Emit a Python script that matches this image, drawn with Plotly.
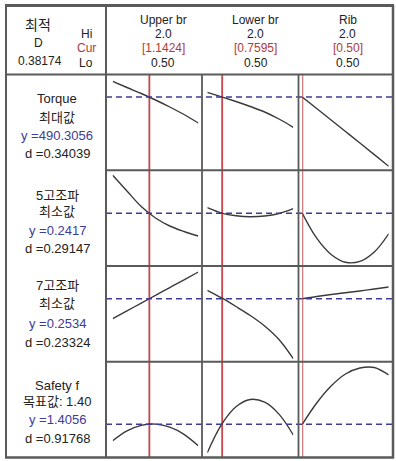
import plotly.graph_objects as go

W, H = 396, 461

# ---------------- data ----------------
factors = ["Upper br", "Lower br", "Rib"]
factor_hi = ["2.0", "2.0", "2.0"]
factor_cur = [1.1424, 0.7595, 0.50]
factor_cur_txt = ["[1.1424]", "[0.7595]", "[0.50]"]
factor_lo = ["0.50", "0.50", "0.50"]

x_grid = [0.5, 0.75, 1.0, 1.25, 1.5, 1.75, 2.0]

torque_upper = [521.7, 509.3, 497.3, 484.3, 470.3, 455.3, 438.3]
torque_lower = [499.7, 490.7, 481.3, 471.3, 460.3, 446.3, 429.7]
torque_rib = [490.3, 467.3, 444.3, 421.3, 398.3, 375.1, 351.7]

h5_upper = [0.3177, 0.2863, 0.2553, 0.2323, 0.2163, 0.2053, 0.1963]
h5_lower = [0.2529, 0.2421, 0.2367, 0.2347, 0.2363, 0.2413, 0.2509]
h5_rib = [0.2417, 0.1919, 0.1593, 0.1437, 0.1455, 0.1643, 0.2007]

h7_upper = [0.2234, 0.2351, 0.2468, 0.2585, 0.2701, 0.2818, 0.2935]
h7_lower = [0.2660, 0.2545, 0.2417, 0.2282, 0.2125, 0.1922, 0.1634]
h7_rib = [0.2534, 0.2567, 0.2597, 0.2624, 0.2650, 0.2680, 0.2710]

sf_upper = [1.3236, 1.3726, 1.4001, 1.4066, 1.3916, 1.3556, 1.2981]
sf_lower = [1.2636, 1.4051, 1.4931, 1.5296, 1.5161, 1.4566, 1.3521]
sf_rib = [1.4056, 1.5121, 1.5971, 1.6571, 1.6871, 1.6896, 1.6521]

response_curves = [
    [torque_upper, torque_lower, torque_rib],
    [h5_upper, h5_lower, h5_rib],
    [h7_upper, h7_lower, h7_rib],
    [sf_upper, sf_lower, sf_rib],
]
response_cur = [490.3056, 0.2417, 0.2534, 1.4056]
row_lo = [343.8, 0.1363, 0.1588, 1.2396]
row_hi = [535.3, 0.3278, 0.3025, 1.7184]

response_name = ["Torque", "5고조파", "7고조파", "Safety f"]
response_goal = ["최대값", "최소값", "최소값", "목표값: 1.40"]
response_y_txt = ["y =490.3056", "y =0.2417", "y =0.2534", "y =1.4056"]
response_d_txt = ["d =0.34039", "d =0.29147", "d =0.23324", "d =0.91768"]

composite_d = "0.38174"

# ---------------- layout geometry (pixels) ----------------
col_data = [(112.7, 198.3), (207.3, 293.3), (302.3, 388.7)]
col_lines = [106, 202, 298.5, 393]
row_lines = [74.5, 170.25, 266, 361.75, 457.5]

def px(x):
    return x / W

def py(y):
    return 1 - y / H

FONT = "Liberation Sans, Arial, Noto Sans CJK KR, sans-serif"
CURVE = "#3a3a3a"
RED = "#c4474a"
BLUE = "#3c3c96"
GRID = "#5a5a5a"

fig = go.Figure()
layout = dict(
    width=W, height=H, margin=dict(l=0, r=0, t=0, b=0),
    paper_bgcolor="white", plot_bgcolor="rgba(0,0,0,0)",
    showlegend=False,
)

shapes = []
annotations = []

for r in range(4):
    for c in range(3):
        k = r * 3 + c + 1
        xa = "xaxis" if k == 1 else f"xaxis{k}"
        ya = "yaxis" if k == 1 else f"yaxis{k}"
        xs = "x" if k == 1 else f"x{k}"
        ys = "y" if k == 1 else f"y{k}"
        layout[xa] = dict(domain=[px(col_data[c][0]), px(col_data[c][1])],
                          range=[0.5, 2.0], visible=False, anchor=ys, fixedrange=True)
        layout[ya] = dict(domain=[py(row_lines[r + 1]), py(row_lines[r])],
                          range=[row_lo[r], row_hi[r]], visible=False, anchor=xs, fixedrange=True)
        fig.add_trace(go.Scatter(
            x=x_grid, y=response_curves[r][c], mode="lines",
            line=dict(color=CURVE, width=1.4, shape="spline", smoothing=1.0),
            xaxis=xs, yaxis=ys, hoverinfo="skip", cliponaxis=False,
        ))
    ys0 = "y" if r == 0 else f"y{r*3+1}"
    shapes.append(dict(type="line", xref="paper", yref=ys0,
                       x0=px(col_lines[0]), x1=px(col_lines[3]),
                       y0=response_cur[r], y1=response_cur[r],
                       line=dict(color=BLUE, width=1.5, dash="6px,4px"), layer="above"))

for c in range(3):
    xs = "x" if c == 0 else f"x{c+1}"
    shapes.append(dict(type="line", xref=xs, yref="paper",
                       x0=factor_cur[c], x1=factor_cur[c],
                       y0=py(row_lines[4]), y1=py(row_lines[0]),
                       line=dict(color=RED, width=1.8), layer="below"))

def hline(y, x0, x1, w=2, col=GRID):
    shapes.append(dict(type="line", xref="paper", yref="paper",
                       x0=px(x0), x1=px(x1), y0=py(y), y1=py(y),
                       line=dict(color=col, width=w)))

def vline(x, y0, y1, w=2, col=GRID):
    shapes.append(dict(type="line", xref="paper", yref="paper",
                       x0=px(x), x1=px(x), y0=py(y0), y1=py(y1),
                       line=dict(color=col, width=w)))

hline(5.5, 5, 394, w=3)
hline(457.5, 5, 394, w=2.5)
vline(6, 5, 458, w=2)
vline(393, 5, 458, w=2.5)
hline(74.5, 6, 393, w=2)
vline(106, 6, 458, w=2)
for x in col_lines[1:3]:
    vline(x, 74.5, 457.5, w=1.8)
for y in row_lines[1:4]:
    hline(y, 106, 393, w=1.8)

def txt(x, y, s, color="#222222", size=12, xanchor="center"):
    annotations.append(dict(x=px(x), y=py(y), xref="paper", yref="paper",
                            text=s, showarrow=False, xanchor=xanchor, yanchor="middle",
                            font=dict(family=FONT, size=size, color=color)))

txt(38, 25, "최적", size=14)
txt(38, 43, "D")
txt(40, 61, composite_d)
txt(86, 34, "Hi")
txt(86, 48, "Cur", color="#b03a3a")
txt(86, 62.5, "Lo")

head_x = [163, 255.5, 347.5]
for c in range(3):
    txt(head_x[c], 20, factors[c])
    txt(head_x[c], 34, factor_hi[c])
    txt(head_x[c], 48, factor_cur_txt[c], color="#b03a3a")
    txt(head_x[c], 62.5, factor_lo[c])

label_y = [
    [98, 117.3, 135, 153.3],
    [195, 211.7, 230, 249],
    [285, 303.3, 323.3, 342.7],
    [385, 401, 419.5, 438.3],
]
for r in range(4):
    ly = label_y[r]
    txt(57, ly[0], response_name[r], size=13)
    txt(57, ly[1], response_goal[r], size=13)
    txt(57, ly[2], response_y_txt[r], color=BLUE, size=13)
    txt(57, ly[3], response_d_txt[r], size=13)

layout["shapes"] = shapes
layout["annotations"] = annotations
fig.update_layout(**layout)
fig.write_html("out.html", config={"displayModeBar": False},
               post_script="document.body.style.margin='0';")
